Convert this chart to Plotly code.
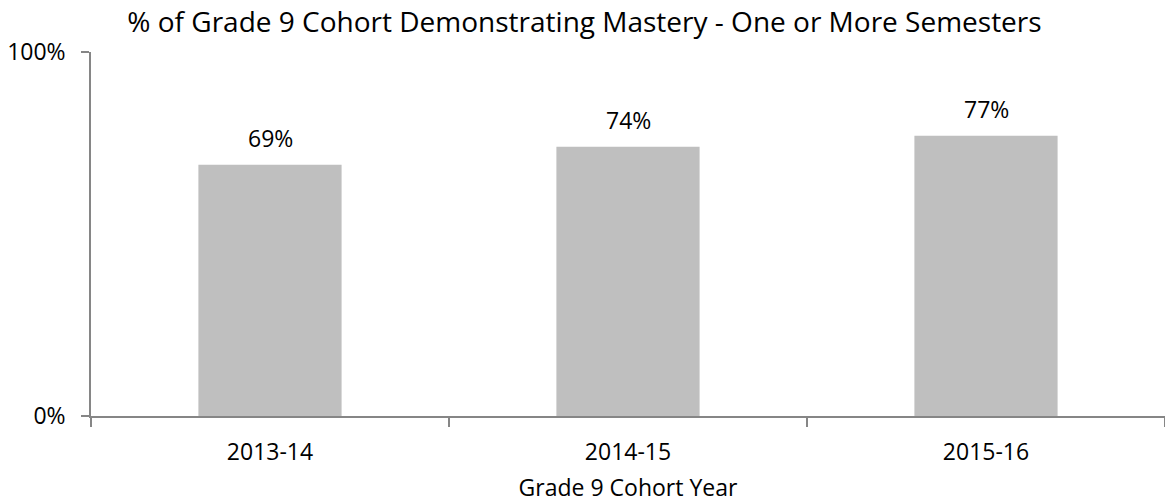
import plotly.graph_objects as go

categories = ["2013-14", "2014-15", "2015-16"]
values = [69, 74, 77]
labels = ["69%", "74%", "77%"]
y_tick_vals = [0, 100]
y_tick_text = ["0%", "100%"]

FONT = "Open Sans"
fig = go.Figure()
fig.add_trace(go.Bar(
    x=categories, y=values, width=0.4,
    marker=dict(color="#BFBFBF", line=dict(width=0)),
    hoverinfo="skip",
))
for c, v, t in zip(categories, values, labels):
    fig.add_annotation(x=c, y=v, text=t, showarrow=False, yshift=27,
                       font=dict(family=FONT, size=23, color="#000000"))

fig.update_layout(
    width=1165, height=504,
    margin=dict(l=91, r=0, t=52, b=88),
    paper_bgcolor="white", plot_bgcolor="white",
    showlegend=False,
    title=dict(text="% of Grade 9 Cohort Demonstrating Mastery - One or More Semesters",
               x=584.5 / 1165, xanchor="center", y=1 - 22 / 504, yanchor="middle",
               font=dict(family=FONT, size=28, color="#000000")),
    font=dict(family=FONT, size=23, color="#000000"),
)
fig.update_xaxes(
    type="category", tickson="boundaries", ticks="outside", ticklen=9,
    tickcolor="#868686", tickwidth=1.5,
    showline=True, linecolor="#868686", linewidth=1.5,
    showgrid=False, zeroline=False,
    tickfont=dict(family=FONT, size=23), ticklabelstandoff=15,
    title=dict(text="Grade 9 Cohort Year", font=dict(family=FONT, size=23), standoff=14),
)
fig.update_yaxes(
    range=[0, 100], tickvals=y_tick_vals, ticktext=y_tick_text,
    ticks="outside", ticklen=8, tickcolor="#868686", tickwidth=1.5,
    showline=True, linecolor="#868686", linewidth=1.5,
    showgrid=False, zeroline=False,
    tickfont=dict(family=FONT, size=23), ticklabelstandoff=11,
)
fig.write_html("out.html", config={"displayModeBar": False},
               post_script="document.body.style.margin='0px';")
